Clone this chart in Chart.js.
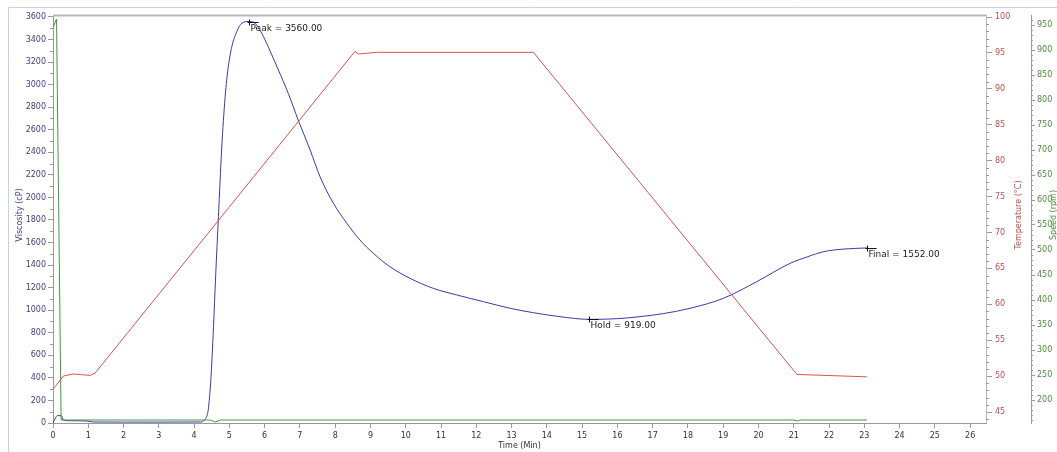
<!DOCTYPE html>
<html><head><meta charset="utf-8">
<script src="https://cdn.jsdelivr.net/npm/chart.js@4/dist/chart.umd.min.js"></script>
<style>html,body{margin:0;padding:0;background:#fff;overflow:hidden}#wrap{width:1057px;height:452px;position:relative}</style>
</head><body><div id="wrap"><canvas id="c" width="1057" height="452"></canvas></div>
<script>
// ---- data ----
const viscTime = [0,0.08,0.12,0.24,0.29,0.5,0.96,1.14,2.0,3.0,4.17,4.31,4.40,4.48,4.55,4.61,4.69,4.78,4.88,4.97,5.07,5.21,5.35,5.55,5.73,5.92,6.10,6.39,6.67,6.95,7.29,7.57,7.95,8.33,8.70,9.08,9.55,10.12,10.78,11.45,12.20,12.96,13.62,14.37,15.2,16.0,16.64,17.3,18.06,19.0,19.95,20.9,21.4,21.84,22.4,23.07];
const viscValues = [0,50,65,65,27,20,18,9,8,8,9,33,115,410,854,1297,1829,2421,2893,3159,3337,3470,3544,3560,3544,3455,3337,3130,2923,2687,2421,2184,1948,1771,1623,1505,1386,1283,1194,1135,1076,1017,978,943,919,925,943,970,1017,1105,1253,1416,1475,1519,1542,1552];
const tempTime = [0,0.06,0.29,0.58,0.8,1.05,1.19,8.56,8.66,9.18,13.62,21.09,23.07];
const tempValues = [48.2,48.5,50.0,50.3,50.2,50.1,50.4,95.2,94.85,95.08,95.08,50.23,49.9];
const speedTime = [0,0.1,0.23,4.45,4.6,4.75,21.0,21.1,21.2,23.07];
const speedValues = [945,962,160,160,156,160,160,158,160,160];
const timeTicks = [0,1,2,3,4,5,6,7,8,9,10,11,12,13,14,15,16,17,18,19,20,21,22,23,24,25,26];
const viscTicks = [0,200,400,600,800,1000,1200,1400,1600,1800,2000,2200,2400,2600,2800,3000,3200,3400,3600];
const tempTicks = [45,50,55,60,65,70,75,80,85,90,95,100];
const speedTicks = [200,250,300,350,400,450,500,550,600,650,700,750,800,850,900,950];
const markerNames = ['Peak','Hold','Final'];
const markerTimes = [5.55,15.2,23.07];
const markerValues = [3560,919,1552];

const FONT = 'DejaVu Sans';
const VISC_C = '#3d3d8f', TEMP_C = '#c0504d', SPEED_C = '#4a8f3a';

function pts(xs, ys){ return xs.map((x,i)=>({x:x, y:ys[i]})); }
function setTicks(arr){ return function(scale){ scale.ticks = arr.map(v=>({value:v})); }; }
const plain = v => String(v);

const decor = {
  id:'decor',
  beforeDraw(chart){
    const ctx = chart.ctx;
    ctx.save();
    ctx.fillStyle = '#fff';
    ctx.fillRect(0,0,chart.width,chart.height);
    ctx.strokeStyle = '#c9d3dd';
    ctx.lineWidth = 1;
    ctx.beginPath();
    ctx.moveTo(8.5,452); ctx.lineTo(8.5,7.5); ctx.lineTo(1057,7.5);
    ctx.stroke();
    ctx.restore();
  },
  afterDraw(chart){
    const ctx = chart.ctx, a = chart.chartArea, s = chart.scales;
    ctx.save();
    ctx.strokeStyle = '#b8b8b8';
    ctx.lineWidth = 2;
    ctx.beginPath(); ctx.moveTo(a.left, a.top+0.5); ctx.lineTo(a.right, a.top+0.5); ctx.stroke();
    ctx.lineWidth = 1;
    ctx.beginPath(); ctx.moveTo(a.right+0.5, a.top); ctx.lineTo(a.right+0.5, a.bottom); ctx.stroke();
    ctx.strokeStyle = '#9a9a9a';
    ctx.beginPath();
    for (let v=100; v<3600; v+=200){ const y=Math.round(s.yV.getPixelForValue(v))+0.5; ctx.moveTo(a.left-3,y); ctx.lineTo(a.left,y); }
    for (let v=44; v<=100; v+=1){ if (v%5===0) continue; const y=Math.round(s.yT.getPixelForValue(v))+0.5; ctx.moveTo(s.yT.left,y); ctx.lineTo(s.yT.left+3,y); }
    for (let v=160; v<=960; v+=10){ if (v%50===0) continue; const y=Math.round(s.yS.getPixelForValue(v))+0.5; ctx.moveTo(s.yS.left,y); ctx.lineTo(s.yS.left+2,y); }
    ctx.stroke();
    ctx.strokeStyle = '#111'; ctx.fillStyle = '#222';
    ctx.font = '9px "'+FONT+'"';
    ctx.textBaseline = 'top'; ctx.textAlign = 'left';
    markerNames.forEach((n,i)=>{
      const px = Math.round(s.x.getPixelForValue(markerTimes[i]))+0.5;
      const py = Math.round(s.yV.getPixelForValue(markerValues[i]))+0.5;
      ctx.beginPath();
      ctx.moveTo(px-2,py); ctx.lineTo(px+9,py);
      ctx.moveTo(px,py-3); ctx.lineTo(px,py+3);
      ctx.stroke();
      ctx.fillText(n+' = '+markerValues[i].toFixed(2), px+1, py+2);
    });
    ctx.font = '8px "'+FONT+'"';
    ctx.textAlign = 'center'; ctx.textBaseline = 'middle';
    const cy = (a.top+a.bottom)/2 - 4;
    const vt = (text,x,y,color)=>{ ctx.save(); ctx.translate(x,y); ctx.rotate(-Math.PI/2); ctx.fillStyle=color; ctx.fillText(text,0,0); ctx.restore(); };
    vt('Viscosity (cP)', 20, cy, VISC_C);
    vt('Temperature (°C)', 1019, cy, TEMP_C);
    vt('Speed (rpm)', 1054, cy, SPEED_C);
    ctx.fillStyle = '#333';
    ctx.fillText('Time (Min)', (a.left+a.right)/2, 446);
    ctx.restore();
  }
};

new Chart(document.getElementById('c'), {
  type:'line',
  data:{ datasets:[
    {label:'Temperature', data:pts(tempTime,tempValues), yAxisID:'yT', borderColor:'#d9534f', borderWidth:1, pointRadius:0, tension:0},
    {label:'Speed', data:pts(speedTime,speedValues), yAxisID:'yS', borderColor:'#3f9a3f', borderWidth:1, pointRadius:0, tension:0},
    {label:'Viscosity', data:pts(viscTime,viscValues), yAxisID:'yV', borderColor:'#3a3aaa', borderWidth:1, pointRadius:0, cubicInterpolationMode:'monotone'}
  ]},
  options:{
    responsive:false, animation:false, devicePixelRatio:1,
    layout:{padding:{top:15,left:0,right:0,bottom:0}},
    plugins:{legend:{display:false}, tooltip:{enabled:false}},
    scales:{
      x:{type:'linear', position:'bottom', min:0, max:26.45,
         afterBuildTicks:setTicks(timeTicks),
         afterFit(sc){ sc.height = 29; },
         grid:{drawOnChartArea:false, drawTicks:true, tickLength:5, color:'#9a9a9a'},
         border:{display:true, color:'#9a9a9a'},
         ticks:{padding:3, color:'#333', font:{family:FONT,size:8}, maxRotation:0, autoSkip:false, callback:plain}},
      yV:{type:'linear', position:'left', min:0, max:3617.7,
         afterBuildTicks:setTicks(viscTicks),
         afterFit(sc){ sc.width = 53; },
         grid:{drawOnChartArea:false, drawTicks:true, tickLength:5, color:'#9a9a9a'},
         border:{display:true, color:'#9a9a9a'},
         ticks:{padding:2, color:VISC_C, font:{family:FONT,size:8}, autoSkip:false, callback:plain}},
      yT:{type:'linear', position:'right', weight:0, min:43.47, max:100.28,
         afterBuildTicks:setTicks(tempTicks),
         afterFit(sc){ sc.width = 45; },
         grid:{drawOnChartArea:false, drawTicks:true, tickLength:6, color:'#9a9a9a'},
         border:{display:true, color:'#9a9a9a'},
         ticks:{padding:3, color:TEMP_C, font:{family:FONT,size:8}, autoSkip:false, callback:plain}},
      yS:{type:'linear', position:'right', weight:1, min:154, max:970,
         afterBuildTicks:setTicks(speedTicks),
         afterFit(sc){ sc.width = 26; },
         grid:{drawOnChartArea:false, drawTicks:true, tickLength:4, color:'#9a9a9a'},
         border:{display:true, color:'#9a9a9a'},
         ticks:{padding:2, color:SPEED_C, font:{family:FONT,size:8}, autoSkip:false, callback:plain}}
    }
  },
  plugins:[decor]
});
</script></body></html>
